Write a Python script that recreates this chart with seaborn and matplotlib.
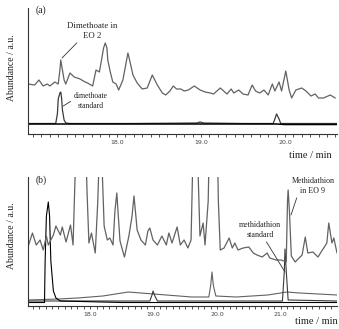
import matplotlib
matplotlib.use("Agg")
import matplotlib.pyplot as plt
import seaborn as sns
import pandas as pd
from matplotlib.ticker import MultipleLocator, FixedLocator, FormatStrFormatter

sns.set_theme(style="white")
plt.rcParams['font.family'] = ['Liberation Serif', 'DejaVu Serif']

# ---------------- panel (a) ----------------
a_eo2_t = [16.94, 17.02, 17.07, 17.12, 17.17, 17.20, 17.26, 17.30, 17.32, 17.33, 17.35, 17.37,
           17.39, 17.44, 17.49, 17.56, 17.62, 17.65, 17.71, 17.75, 17.79, 17.82, 17.84, 17.86,
           17.88, 17.89, 17.92, 17.95, 17.99, 18.02, 18.07, 18.11, 18.13, 18.15, 18.19, 18.24,
           18.30, 18.36, 18.42, 18.48, 18.54, 18.58, 18.63, 18.67, 18.71, 18.76, 18.80, 18.85,
           18.92, 18.99, 19.05, 19.11, 19.15, 19.23, 19.27, 19.31, 19.36, 19.39, 19.45, 19.50,
           19.56, 19.61, 19.65, 19.70, 19.75, 19.80, 19.85, 19.88, 19.93, 19.96, 20.01, 20.05,
           20.08, 20.13, 20.20, 20.25, 20.31, 20.36, 20.40, 20.46, 20.54, 20.60]
a_eo2_y = [40, 39, 44, 38, 40, 38, 42, 40, 54, 64, 54, 44,
           40, 51, 47, 45, 42, 41, 38, 54, 52, 66, 76, 81,
           76, 64, 52, 42, 40, 34, 44, 62, 71, 64, 49, 41,
           35, 36, 49, 39, 31, 29, 33, 38, 35, 35, 33, 34,
           38, 34, 32, 31, 30, 36, 33, 30, 35, 31, 34, 30,
           29, 39, 33, 31, 34, 29, 40, 33, 42, 33, 53, 34,
           26, 34, 36, 33, 28, 30, 26, 26, 29, 26]

a_std_t = [16.94, 17.10, 17.27, 17.29, 17.30, 17.32, 17.33, 17.34, 17.35, 17.37, 17.39, 17.44,
           18.20, 18.95, 18.99, 19.03, 19.50, 19.86, 19.88, 19.90, 19.93, 19.95, 20.30, 20.62]
a_std_y = [0.5, 0.5, 0.5, 10, 25, 31, 32, 26, 14, 4, 1, 0.5,
           0.5, 1, 2, 1, 0.5, 0.5, 5, 10, 5, 0.5, 0.5, 0.5]

a_base_t = [16.94, 18.50, 19.90, 20.00, 20.62]
a_base_y = [0, 0, 0, -0.5, -0.5]

a_tick_labels = [18.0, 19.0, 20.0]

# ---------------- panel (b) ----------------
b_eo9_t = [17.02, 17.09, 17.15, 17.21, 17.26, 17.31, 17.34, 17.42, 17.46, 17.53, 17.56, 17.62,
           17.69, 17.73, 17.76, 17.80, 17.86, 17.92, 17.95, 17.98, 18.02, 18.08, 18.12, 18.17,
           18.19, 18.22, 18.27, 18.31, 18.36, 18.39, 18.42, 18.44, 18.47, 18.54, 18.61, 18.66,
           18.69, 18.72, 18.74, 18.80, 18.87, 18.91, 18.94, 18.99, 19.06, 19.13, 19.20, 19.24,
           19.29, 19.37, 19.42, 19.48, 19.54, 19.59, 19.61, 19.64, 19.67, 19.70, 19.73, 19.78,
           19.81, 19.86, 19.89, 19.94, 20.00, 20.02, 20.05, 20.11, 20.19, 20.24, 20.28, 20.33,
           20.41, 20.50, 20.57, 20.63, 20.71, 20.79, 20.83, 20.93, 21.01, 21.09, 21.11, 21.12,
           21.14, 21.17, 21.23, 21.34, 21.39, 21.43, 21.51, 21.59, 21.73, 21.76, 21.81, 21.84,
           21.89]
b_eo9_y = [54, 68, 56, 61, 51, 65, 56, 66, 75, 66, 74, 59,
           76, 56, 120, 180, 220, 180, 110, 58, 68, 48, 100, 200,
           130, 75, 61, 63, 56, 90, 108, 88, 60, 44, 65, 85,
           105, 85, 71, 61, 56, 70, 73, 61, 56, 65, 56, 68,
           58, 74, 56, 61, 53, 61, 120, 200, 210, 130, 65, 78,
           56, 100, 200, 220, 180, 100, 51, 53, 63, 53, 58, 51,
           53, 54, 48, 46, 44, 48, 43, 41, 41, 39, 100, 111,
           90, 45, 39, 46, 64, 48, 49, 44, 58, 78, 58, 63,
           48]

b_s1_t = [17.02, 17.28, 17.29, 17.31, 17.34, 17.36, 17.38, 17.42, 17.46, 17.53, 18.50, 21.89]
b_s1_y = [-1.5, -1.5, 40, 85, 99, 85, 40, 10, 3, 0, -1.5, -1.5]

b_s2_t = [17.02, 17.50, 17.80, 18.20, 18.60, 18.80, 19.20, 19.60, 19.87, 19.90, 19.92, 19.94,
          19.98, 20.30, 20.80, 21.10, 21.30, 21.60, 21.89]
b_s2_y = [1, 2, 3, 5, 9, 8, 6, 4, 4, 16, 29, 16,
          5, 4, 6, 9, 8, 7, 6]

b_s3_t = [17.02, 18.94, 18.98, 18.99, 19.02, 19.06, 21.03, 21.06, 21.07, 21.09, 21.12, 21.89]
b_s3_y = [0, 0, 7, 10, 5, 0, 0, 30, 52, 30, 1, 0]

b_tick_labels = [18.0, 19.0, 20.0, 21.0]

W, H = 339, 329
fig = plt.figure(figsize=(W / 100, H / 100), dpi=100)
fig.patch.set_facecolor("white")

def px_ax(l, t, r, b):
    return fig.add_axes([l / W, 1 - b / H, (r - l) / W, (b - t) / H])

ax_a = px_ax(28, 8, 337, 134)
ax_b = px_ax(28, 177, 337, 306)

EO_COL = "#626262"
STD_COL = "#3a3a3a"

def draw(ax, t, y, color, lw):
    df = pd.DataFrame({"t": t, "y": y})
    sns.lineplot(data=df, x="t", y="y", ax=ax, color=color, lw=lw,
                 estimator=None, sort=False, legend=False)

draw(ax_a, a_eo2_t, a_eo2_y, EO_COL, 0.9)
draw(ax_a, a_std_t, a_std_y, STD_COL, 0.9)
draw(ax_a, a_base_t, a_base_y, "black", 1.1)

draw(ax_b, b_s2_t, b_s2_y, EO_COL, 0.8)
draw(ax_b, b_s3_t, b_s3_y, STD_COL, 0.8)
draw(ax_b, b_s1_t, b_s1_y, "black", 0.8)
draw(ax_b, b_eo9_t, b_eo9_y, EO_COL, 0.9)

ax_a.set_xlim(16.94, 20.62)
ax_a.set_ylim(-10, 116)
ax_b.set_xlim(17.02, 21.89)
ax_b.set_ylim(-5, 124)

for ax, labs in ((ax_a, a_tick_labels), (ax_b, b_tick_labels)):
    ax.set_facecolor("white")
    for s in ("top", "right"):
        ax.spines[s].set_visible(False)
    for s in ("left", "bottom"):
        ax.spines[s].set_color("#333333")
        ax.spines[s].set_linewidth(0.8)
    ax.set_xlabel("")
    ax.set_ylabel("")
    ax.set_yticks([])
    ax.xaxis.set_major_locator(FixedLocator(labs))
    ax.xaxis.set_minor_locator(MultipleLocator(0.1))
    ax.xaxis.set_major_formatter(FormatStrFormatter("%.1f"))
    ax.tick_params(axis="x", which="both", direction="out", length=2.5, width=0.6,
                   color="#333333", bottom=True, pad=1.5, labelsize=4.5, labelcolor="#444444")
    for lab in ax.get_xticklabels():
        lab.set_fontfamily("DejaVu Sans")

# annotations panel (a)
ax_a.annotate("Dimethoate in\nEO 2", xy=(17.345, 66), xytext=(17.71, 93),
              ha="center", va="center", fontsize=6.3, color="#222222",
              arrowprops=dict(arrowstyle="-", lw=0.6, color="#333333",
                              shrinkA=0, shrinkB=0, relpos=(0.25, 0.0)))
ax_a.annotate("dimethoate\nstandard", xy=(17.36, 18), xytext=(17.69, 23),
              ha="center", va="center", fontsize=5.5, color="#222222",
              arrowprops=dict(arrowstyle="-", lw=0.6, color="#333333",
                              shrinkA=0, shrinkB=0, relpos=(0.0, 0.6)))

# annotations panel (b)
ax_b.annotate("Methidathion\nin EO 9", xy=(21.165, 86), xytext=(21.51, 115),
              ha="center", va="center", fontsize=5.8, color="#222222",
              arrowprops=dict(arrowstyle="-", lw=0.6, color="#333333",
                              shrinkA=0, shrinkB=0, relpos=(0.15, 0.0)))
ax_b.annotate("methidathion\nstandard", xy=(21.07, 29), xytext=(20.68, 71),
              ha="center", va="center", fontsize=5.8, color="#222222",
              arrowprops=dict(arrowstyle="-", lw=0.6, color="#333333",
                              shrinkA=0, shrinkB=0, relpos=(0.6, 0.0)))

# panel letters and axis titles
fig.text(36 / W, 1 - 10 / H, "(a)", fontsize=7, ha="left", va="center", color="#222222")
fig.text(36 / W, 1 - 180 / H, "(b)", fontsize=7, ha="left", va="center", color="#222222")
fig.text(12 / W, 1 - 68 / H, "Abundance / a.u.", rotation=90, fontsize=7,
         ha="center", va="center", color="#222222")
fig.text(12 / W, 1 - 236 / H, "Abundance / a.u.", rotation=90, fontsize=7,
         ha="center", va="center", color="#222222")
fig.text(332 / W, 1 - 155 / H, "time / min", fontsize=7.5, ha="right", va="center", color="#222222")
fig.text(338 / W, 1 - 322 / H, "time / min", fontsize=7.5, ha="right", va="center", color="#222222")

fig.savefig("out.png", dpi=100, facecolor="white")
